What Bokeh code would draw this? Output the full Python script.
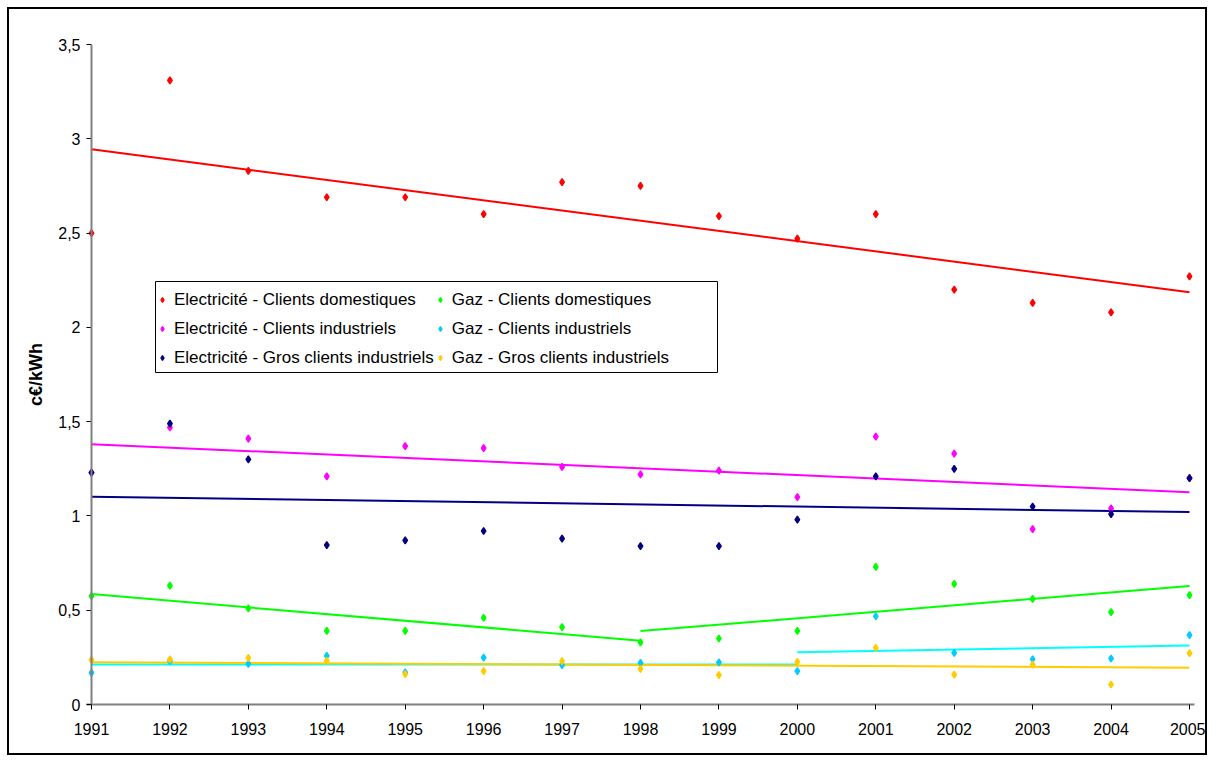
import numpy as np
from bokeh.plotting import figure
from bokeh.models import (Legend, LegendItem, FixedTicker, Range1d, Span,
                          CustomJSTickFormatter, BoxAnnotation)
from bokeh.embed import file_html
from bokeh.resources import INLINE

# ---------------- data (c€/kWh) ----------------
years = list(range(1991, 2006))
y_ticks = [0, 0.5, 1, 1.5, 2, 2.5, 3, 3.5]

elec_domestiques = [2.50, 3.31, 2.83, 2.69, 2.69, 2.60, 2.77, 2.75, 2.59, 2.47, 2.60, 2.20, 2.13, 2.08, 2.27]
elec_industriels = [1.23, 1.47, 1.41, 1.21, 1.37, 1.36, 1.26, 1.22, 1.24, 1.10, 1.42, 1.33, 0.93, 1.04, 1.20]
elec_gros = [1.23, 1.49, 1.30, 0.845, 0.87, 0.92, 0.88, 0.84, 0.84, 0.98, 1.21, 1.25, 1.05, 1.01, 1.20]
gaz_domestiques = [0.575, 0.63, 0.51, 0.39, 0.39, 0.46, 0.41, 0.33, 0.35, 0.39, 0.73, 0.64, 0.56, 0.49, 0.58]
gaz_industriels = [0.168, 0.23, 0.216, 0.258, 0.171, 0.249, 0.209, 0.221, 0.223, 0.177, 0.468, 0.274, 0.240, 0.244, 0.368]
gaz_gros = [0.237, 0.239, 0.247, 0.232, 0.161, 0.177, 0.230, 0.189, 0.156, 0.226, 0.300, 0.159, 0.212, 0.106, 0.272]

labels = ["Electricité - Clients domestiques", "Electricité - Clients industriels",
          "Electricité - Gros clients industriels", "Gaz - Clients domestiques",
          "Gaz - Clients industriels", "Gaz - Gros clients industriels"]
series = [elec_domestiques, elec_industriels, elec_gros, gaz_domestiques, gaz_industriels, gaz_gros]
# linear trend lines fitted over these year spans
trend_spans = [[(1991, 2005)], [(1991, 2005)], [(1991, 2005)],
               [(1991, 1998), (1998, 2005)], [(1991, 2000), (2000, 2005)], [(1991, 2005)]]

point_colors = ["#FF0000", "#FF00FF", "#000080", "#00FF00", "#00CCFF", "#FFCC00"]
line_colors = ["#FF0000", "#FF00FF", "#000080", "#00FF00", "#00FFFF", "#FFCC00"]

FONT = "Liberation Sans"
pad = 5 / 78.43

p = figure(width=1200, height=748, output_backend="svg", toolbar_location=None,
           x_range=Range1d(1991 - pad, 2005 + pad), y_range=Range1d(0, 3.5),
           min_border_left=77, min_border_right=15, min_border_top=35, min_border_bottom=53,
           styles={"border": "2px solid black", "margin": "7px 0 0 7px"})
p.title.visible = False
p.xgrid.visible = False
p.ygrid.visible = False
p.outline_line_color = None
p.background_fill_color = "white"
p.border_fill_color = "white"

# trend lines
yrs = np.array(years)
for vals, spans, lc in zip(series, trend_spans, line_colors):
    v = np.array(vals)
    for a, b in spans:
        m = (yrs >= a) & (yrs <= b)
        k, c = np.polyfit(yrs[m] - 1991, v[m], 1)
        xs = [a, b]
        p.line(xs, [k * (x - 1991) + c for x in xs], line_color=lc, line_width=2)

# points
items = []
for vals, lab, pc in zip(series, labels, point_colors):
    r = p.scatter(years, vals, marker="diamond", size=7, line_width=1.3,
                  fill_color=pc, line_color=pc)
    items.append(LegendItem(label=lab, renderers=[r]))

# y axis line at 1991
p.add_layout(Span(location=1991, dimension="height", line_color="#808080", line_width=2))

yax = p.yaxis[0]
yax.ticker = FixedTicker(ticks=y_ticks)
yax.formatter = CustomJSTickFormatter(code="return tick.toString().replace('.', ',');")
yax.axis_line_color = None
yax.major_tick_in = 5
yax.major_tick_out = 0
yax.major_tick_line_color = "black"
yax.minor_tick_line_color = None
yax.major_label_standoff = 6
yax.major_label_text_font = FONT
yax.major_label_text_font_size = "16px"
yax.major_label_text_color = "black"
yax.axis_label = "c€/kWh"
yax.axis_label_text_font = FONT
yax.axis_label_text_font_style = "bold"
yax.axis_label_text_font_size = "18px"
yax.axis_label_text_color = "black"
yax.axis_label_standoff = 9

xax = p.xaxis[0]
xax.ticker = FixedTicker(ticks=years)
xax.axis_line_color = "#808080"
xax.axis_line_width = 2
xax.major_tick_in = 0
xax.major_tick_out = 5
xax.major_tick_line_color = "black"
xax.minor_tick_line_color = None
xax.major_label_standoff = 13
xax.major_label_text_font = FONT
xax.major_label_text_font_size = "16px"
xax.major_label_text_color = "black"

# legend frame (wider than its content, as in the original); screen units from frame bottom-left
p.add_layout(BoxAnnotation(left=69, right=631, bottom=332, top=423,
                           left_units="screen", right_units="screen",
                           top_units="screen", bottom_units="screen",
                           fill_color="white", fill_alpha=1,
                           line_color="black", line_width=1, line_alpha=1))

legend = Legend(items=items, location=(70, 332), orientation="vertical", nrows=3,
                label_text_font=FONT, label_text_font_size="17px", label_text_color="black",
                border_line_color=None, background_fill_alpha=0,
                padding=2, spacing=0, glyph_width=12, glyph_height=29,
                label_height=29, label_standoff=6, margin=0)
p.add_layout(legend)

open("out.html", "w").write(file_html(p, INLINE))
